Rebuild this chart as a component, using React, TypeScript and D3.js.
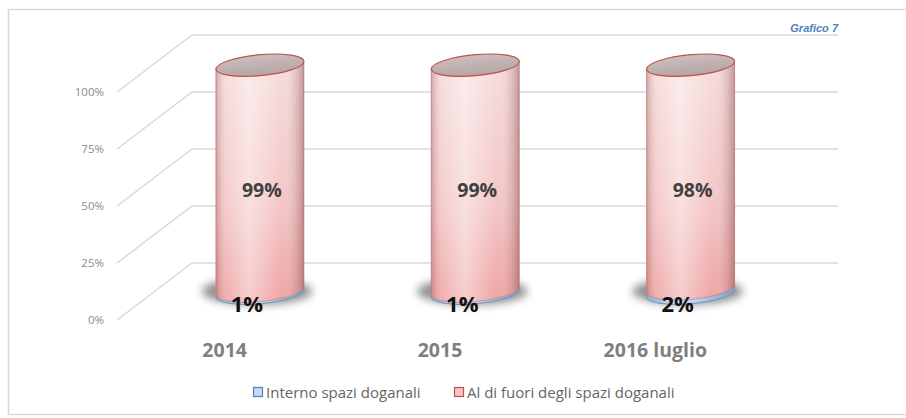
import { useEffect, useRef } from 'react';
import * as d3 from 'd3';

const categories = ['2014', '2015', '2016 luglio'];
const interno = [1, 1, 2];
const fuori = [99, 99, 98];
const yTicks = [0, 25, 50, 75, 100];
const seriesNames = ['Interno spazi doganali', 'Al di fuori degli spazi doganali'];

export default function App() {
    const ref = useRef<SVGSVGElement>(null);

    useEffect(() => {
        const svg = d3.select(ref.current);
        svg.selectAll('*').remove();

        // 3d box: front floor edge, back wall offset
        const depthX = 75;
        const depthY = -57;
        const f = 0.47; // cylinder depth position
        const x = d3.scaleBand().domain(categories).range([117, 763]);
        const y = d3.scaleLinear().domain([0, 100]).range([320, 92]);
        const rx = 44;
        const ry = 10.5;

        const defs = svg.append('defs');
        const vg = defs.append('linearGradient').attr('id', 'redV').attr('x1', 0).attr('x2', 0).attr('y1', 0).attr('y2', 1);
        vg.append('stop').attr('offset', '0%').attr('stop-color', '#f6dcdc');
        vg.append('stop').attr('offset', '60%').attr('stop-color', '#f4c6c6');
        vg.append('stop').attr('offset', '100%').attr('stop-color', '#eea4a4');
        const hg = defs.append('linearGradient').attr('id', 'shadeH');
        hg.append('stop').attr('offset', '0%').attr('stop-color', '#7a3030').attr('stop-opacity', 0.3);
        hg.append('stop').attr('offset', '12%').attr('stop-color', '#ffffff').attr('stop-opacity', 0.1);
        hg.append('stop').attr('offset', '38%').attr('stop-color', '#ffffff').attr('stop-opacity', 0.45);
        hg.append('stop').attr('offset', '75%').attr('stop-color', '#ffffff').attr('stop-opacity', 0);
        hg.append('stop').attr('offset', '100%').attr('stop-color', '#6a2a2a').attr('stop-opacity', 0.38);
        const bg = defs.append('linearGradient').attr('id', 'blueH');
        bg.append('stop').attr('offset', '0%').attr('stop-color', '#8fb0d8');
        bg.append('stop').attr('offset', '40%').attr('stop-color', '#d6e3f2');
        bg.append('stop').attr('offset', '100%').attr('stop-color', '#7d9fcb');
        const tg = defs.append('linearGradient').attr('id', 'topG').attr('x1', 0).attr('x2', 0).attr('y1', 0).attr('y2', 1);
        tg.append('stop').attr('offset', '0%').attr('stop-color', '#cbbebe');
        tg.append('stop').attr('offset', '100%').attr('stop-color', '#b5a5a5');
        defs.append('filter').attr('id', 'blur').attr('x', '-50%').attr('y', '-50%').attr('width', '200%').attr('height', '200%')
            .append('feGaussianBlur').attr('stdDeviation', 4);

        // frame
        svg.append('rect').attr('x', 8.5).attr('y', 9.5).attr('width', 905).attr('height', 405)
            .attr('fill', 'white').attr('stroke', '#d9d9d9').attr('stroke-width', 1.5);

        const x0 = x.range()[0];
        const x1 = x.range()[1];
        const grid = svg.append('g').attr('stroke', '#d9d9d9').attr('stroke-width', 1.5).attr('fill', 'none');
        yTicks.forEach(t => {
            grid.append('line').attr('x1', x0).attr('y1', y(t)).attr('x2', x0 + depthX).attr('y2', y(t) + depthY);
            grid.append('line').attr('x1', x0 + depthX).attr('y1', y(t) + depthY).attr('x2', x1 + depthX).attr('y2', y(t) + depthY);
        });

        svg.append('g').selectAll('text').data(yTicks).join('text')
            .attr('x', 104).attr('y', d => y(d) + 4)
            .attr('text-anchor', 'end')
            .attr('font-family', 'Open Sans').attr('font-size', 11.5).attr('fill', '#8a8a8a')
            .text(d => d + '%');

        svg.append('text').attr('x', 838).attr('y', 32).attr('text-anchor', 'end')
            .attr('font-family', 'Liberation Sans').attr('font-size', 11).attr('font-weight', 'bold')
            .attr('font-style', 'italic').attr('fill', '#4f81bd').text('Grafico 7');

        const cylPath = (yb: number, yt: number) =>
            `M${-rx},${yb} A${rx},${ry} 0 0 0 ${rx},${yb} L${rx},${yt} A${rx},${ry} 0 0 1 ${-rx},${yt} Z`;

        categories.forEach((c, i) => {
            const cx = (x(c) as number) + x.bandwidth() / 2 + depthX * f;
            const off = depthY * f;
            const yb = y(0) + off;
            const ym = y(interno[i]) + off;
            const yt = y(interno[i] + fuori[i]) + off;

            svg.append('ellipse').attr('cx', cx - 3).attr('cy', yb - 2).attr('rx', rx + 11).attr('ry', ry + 3)
                .attr('fill', '#444').attr('opacity', 0.6).attr('filter', 'url(#blur)');

            const g = svg.append('g').attr('transform', `translate(${cx},${yb}) skewY(-5) translate(0,${-yb})`);
            g.append('path').attr('d', cylPath(yb, ym)).attr('fill', 'url(#blueH)').attr('stroke', '#6f94c4').attr('stroke-width', 1);
            g.append('path').attr('d', cylPath(ym, yt)).attr('fill', 'url(#redV)').attr('stroke', '#d08a87').attr('stroke-width', 0.8);
            g.append('path').attr('d', cylPath(ym, yt)).attr('fill', 'url(#shadeH)');
            g.append('ellipse').attr('cx', 0).attr('cy', yt).attr('rx', rx).attr('ry', ry)
                .attr('fill', 'url(#topG)').attr('stroke', '#c0504d').attr('stroke-width', 1.2);

            svg.append('text').attr('x', cx + 2).attr('y', 197)
                .attr('text-anchor', 'middle').attr('font-family', 'Open Sans').attr('font-weight', 'bold')
                .attr('font-size', 19.5).attr('fill', '#404040').text(fuori[i] + '%');
            svg.append('text').attr('x', cx - 13).attr('y', yb + 19)
                .attr('text-anchor', 'middle').attr('font-family', 'Open Sans').attr('font-weight', 'bold')
                .attr('font-size', 22).attr('fill', '#111').text(interno[i] + '%');

            svg.append('text').attr('x', (x(c) as number) + x.bandwidth() / 2).attr('y', 357)
                .attr('text-anchor', 'middle').attr('font-family', 'Open Sans').attr('font-weight', 'bold')
                .attr('font-size', 19.5).attr('fill', '#7f7f7f').text(c);
        });

        const legend = [
            { x: 253, fill: '#c6d9f1', stroke: '#4f81bd' },
            { x: 454, fill: '#f2c4c3', stroke: '#c0504d' },
        ];
        legend.forEach((l, i) => {
            svg.append('rect').attr('x', l.x + 0.5).attr('y', 387.5).attr('width', 9).attr('height', 9)
                .attr('fill', l.fill).attr('stroke', l.stroke).attr('stroke-width', 1.2);
            svg.append('text').attr('x', l.x + 13).attr('y', 397.5)
                .attr('font-family', 'Open Sans').attr('font-size', 15).attr('fill', '#666')
                .text(seriesNames[i]);
        });
    }, []);

    return (
        <svg ref={ref} width={906} height={418}
            style={{ position: 'absolute', left: 0, top: 0, display: 'block' }} />
    );
}
